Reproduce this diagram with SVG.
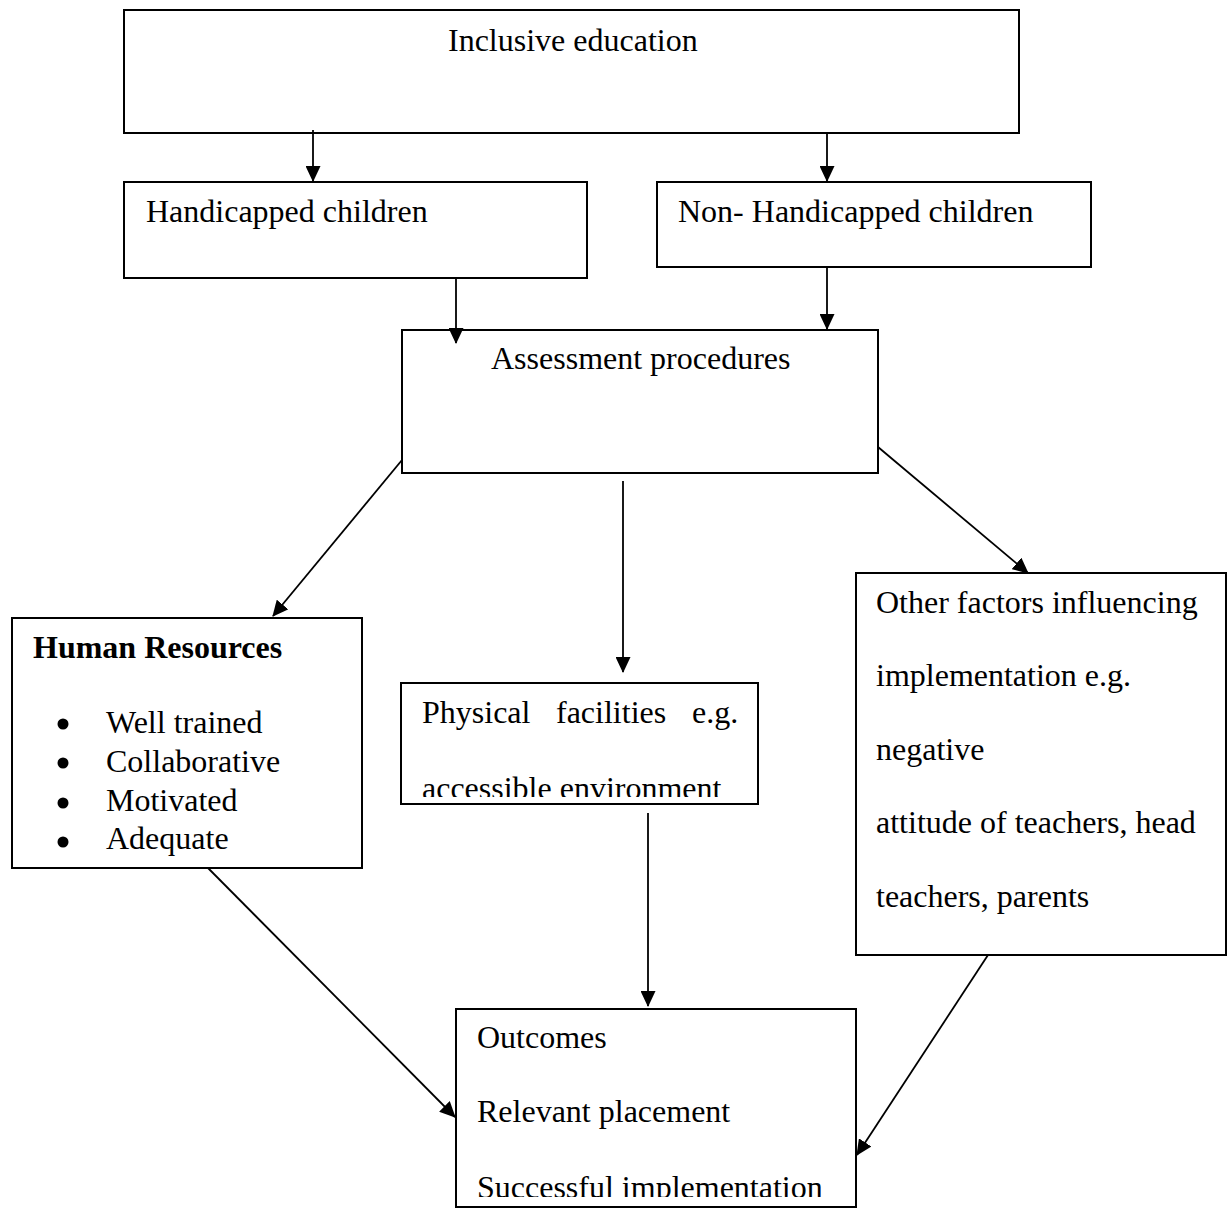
<svg xmlns="http://www.w3.org/2000/svg" width="1230" height="1208" viewBox="0 0 1230 1208">
<style>
.box{fill:#fff;stroke:#000;stroke-width:2}
.t{font-family:"Liberation Serif","Times New Roman",serif;font-size:32px;fill:#000}
.b{font-weight:bold}
.dot{fill:#000}
.c{stroke:#000;stroke-width:1.8;fill:none;marker-end:url(#ah)}
</style>
<defs>
<marker id="ah" markerUnits="userSpaceOnUse" markerWidth="16" markerHeight="15" viewBox="0 0 16 15" refX="15" refY="7.5" orient="auto">
<path d="M0,0 L16,7.5 L0,15 z" fill="#000"/>
</marker>
<clipPath id="clipPhys"><rect x="401" y="683" width="357" height="114"/></clipPath>
<clipPath id="clipOut"><rect x="456" y="1009" width="400" height="188"/></clipPath>
</defs>
<rect width="1230" height="1208" fill="#fff"/>

<g id="inclusive">
<rect class="box" x="124" y="10" width="895" height="123"/>
<text class="t" x="448" y="51">Inclusive education</text>
</g>

<g id="handicapped">
<rect class="box" x="124" y="182" width="463" height="96"/>
<text class="t" x="146" y="222">Handicapped children</text>
</g>

<g id="nonhandicapped">
<rect class="box" x="657" y="182" width="434" height="85"/>
<text class="t" x="678" y="222">Non- Handicapped children</text>
</g>

<g id="assessment">
<rect class="box" x="402" y="330" width="476" height="143"/>
<text class="t" x="491" y="369">Assessment procedures</text>
</g>

<g id="human">
<rect class="box" x="12" y="618" width="350" height="250"/>
<text class="t b" x="33" y="658">Human Resources</text>
<circle class="dot" cx="63" cy="724" r="5.5"/>
<circle class="dot" cx="63" cy="763" r="5.5"/>
<circle class="dot" cx="63" cy="803" r="5.5"/>
<circle class="dot" cx="63" cy="842" r="5.5"/>
<text class="t" x="106" y="733">Well trained</text>
<text class="t" x="106" y="772">Collaborative</text>
<text class="t" x="106" y="811">Motivated</text>
<text class="t" x="106" y="849">Adequate</text>
</g>

<g id="physical">
<rect class="box" x="401" y="683" width="357" height="121"/>
<text class="t" y="723"><tspan x="422">Physical</tspan><tspan x="556">facilities</tspan><tspan x="692">e.g.</tspan></text>
<text class="t" x="422" y="799" clip-path="url(#clipPhys)">accessible environment</text>
</g>

<g id="other">
<rect class="box" x="856" y="573" width="370" height="382"/>
<text class="t" x="876" y="613">Other factors influencing</text>
<text class="t" x="876" y="686">implementation e.g.</text>
<text class="t" x="876" y="760">negative</text>
<text class="t" x="876" y="833">attitude of teachers, head</text>
<text class="t" x="876" y="907">teachers, parents</text>
</g>

<g id="outcomes">
<rect class="box" x="456" y="1009" width="400" height="198"/>
<text class="t" x="477" y="1048">Outcomes</text>
<text class="t" x="477" y="1122">Relevant placement</text>
<text class="t" x="477" y="1198" clip-path="url(#clipOut)">Successful implementation</text>
</g>

<g id="connectors">
<line class="c" x1="313" y1="130" x2="313" y2="181"/>
<line class="c" x1="827" y1="133" x2="827" y2="181"/>
<line class="c" x1="456" y1="278" x2="456" y2="343"/>
<line class="c" x1="827" y1="267" x2="827" y2="329"/>
<line class="c" x1="402" y1="460" x2="273" y2="616"/>
<line class="c" x1="623" y1="481" x2="623" y2="672"/>
<line class="c" x1="878" y1="447" x2="1028" y2="573"/>
<line class="c" x1="208" y1="868" x2="455" y2="1117"/>
<line class="c" x1="648" y1="813" x2="648" y2="1006"/>
<line class="c" x1="988" y1="955" x2="857" y2="1155"/>
</g>
</svg>
